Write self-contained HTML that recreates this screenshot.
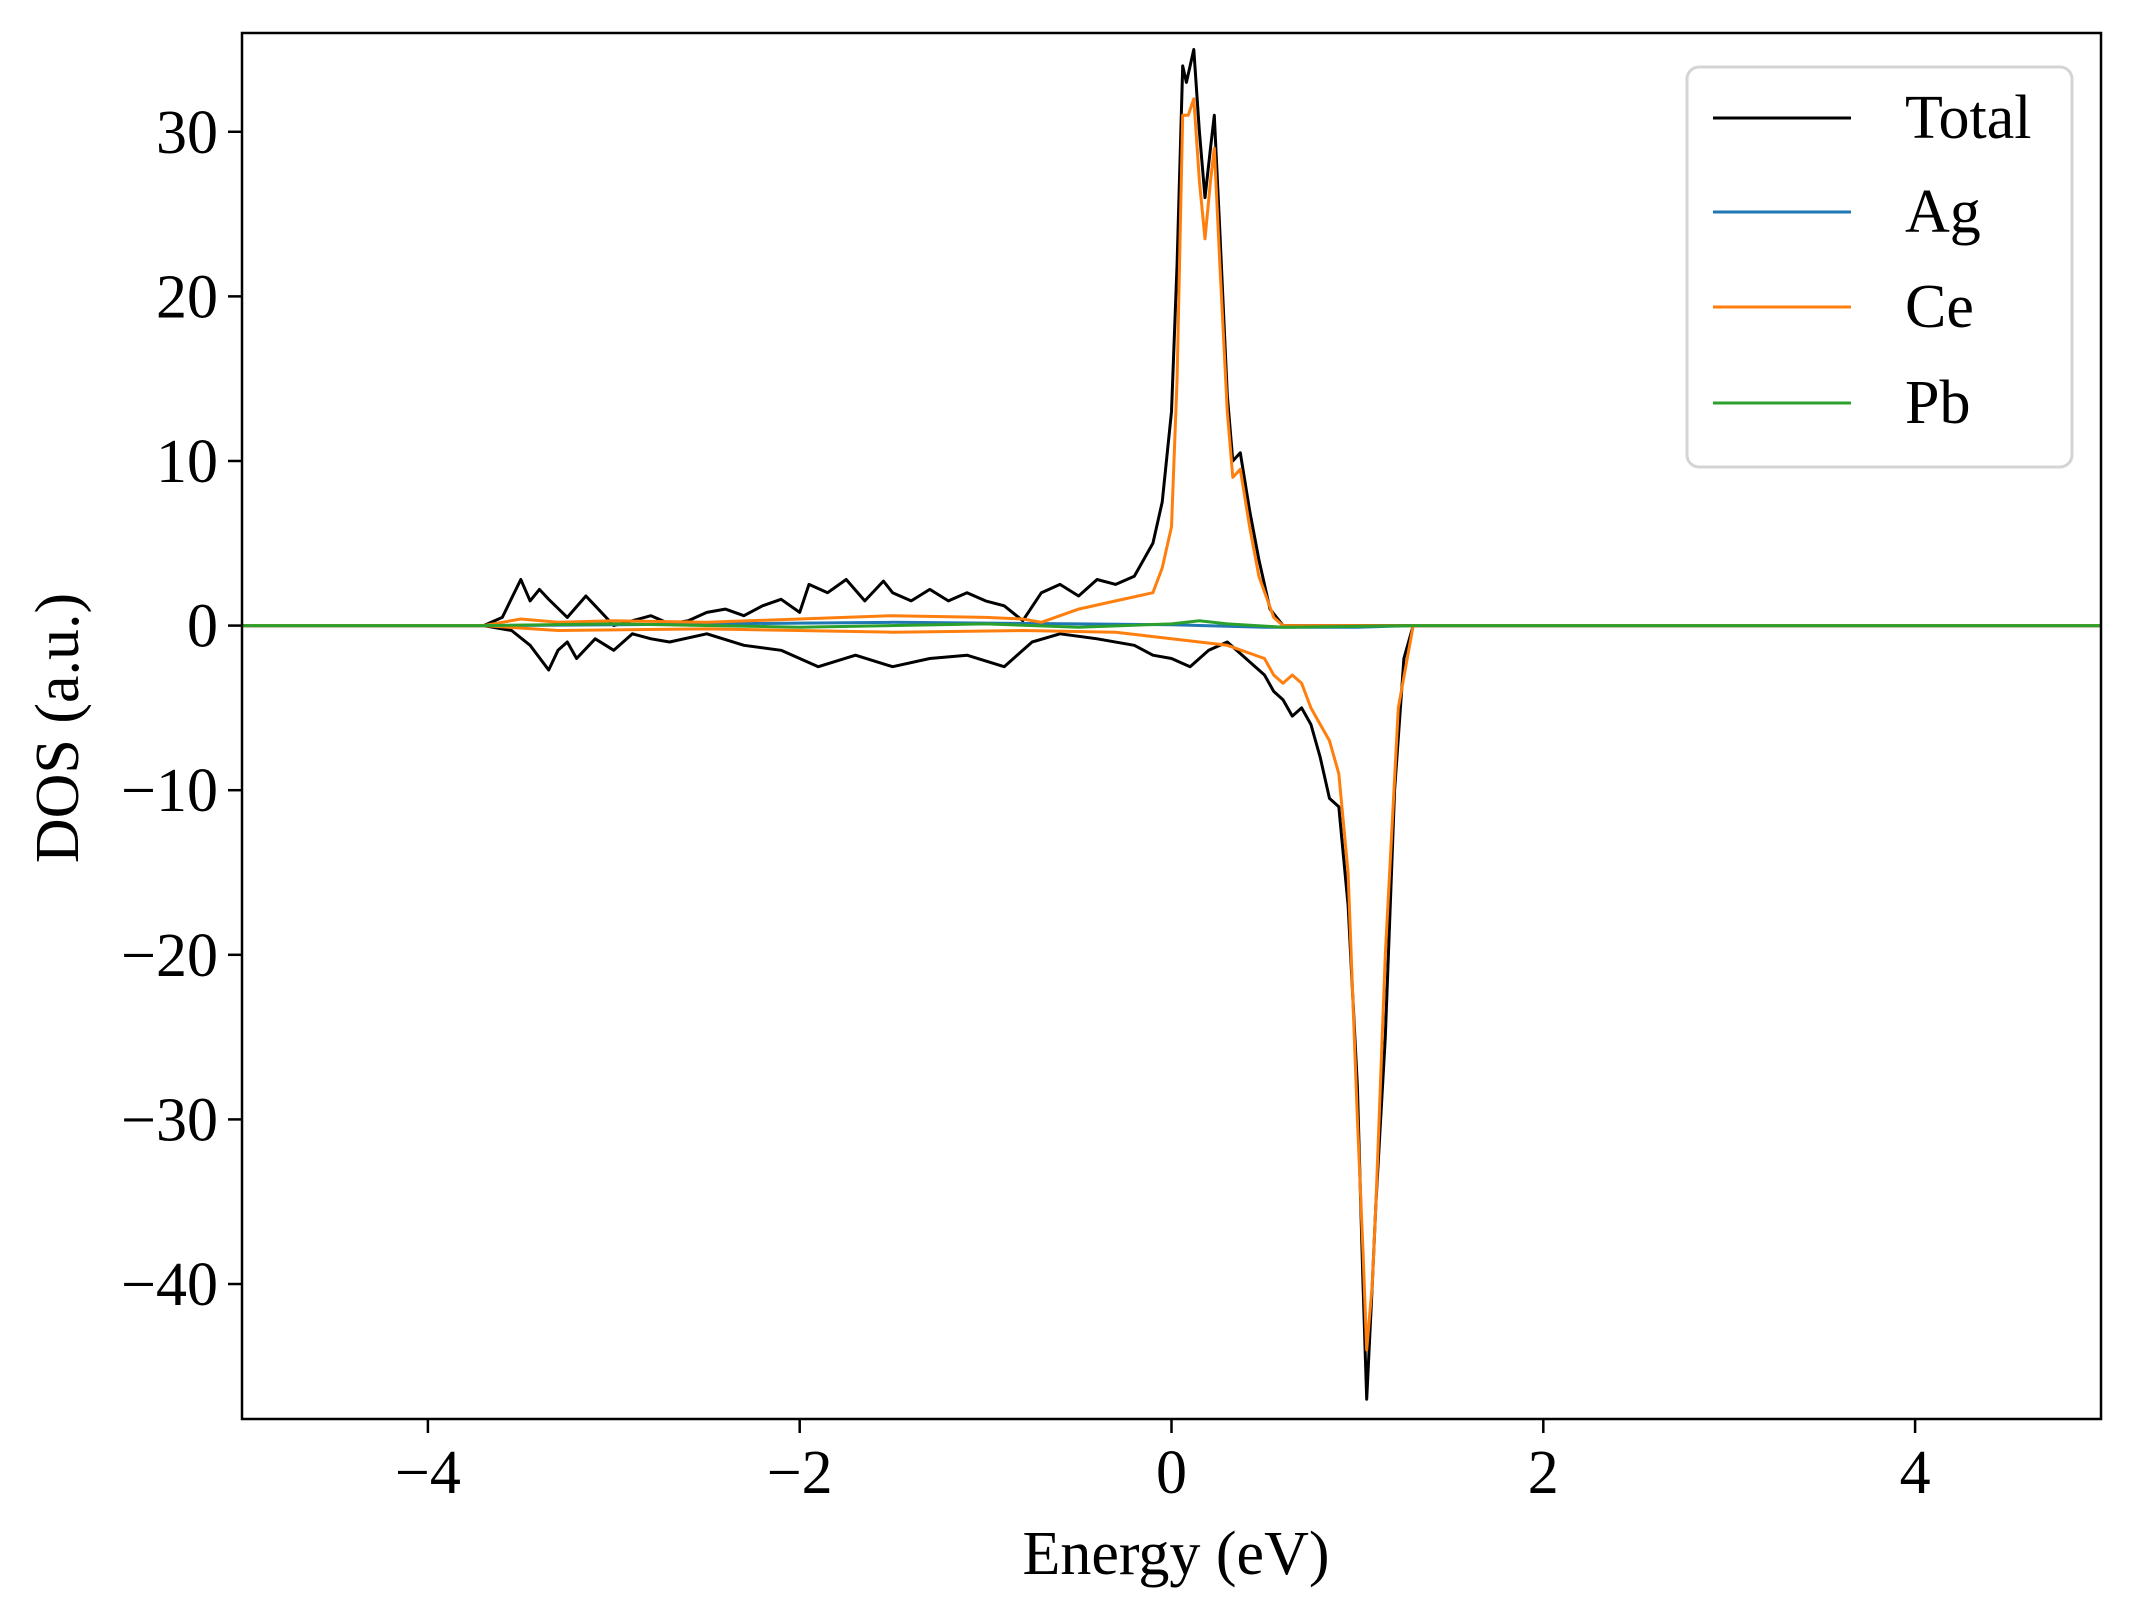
<!DOCTYPE html>
<html><head><meta charset="utf-8"><style>
html,body{margin:0;padding:0;background:#fff;}
svg text{font-family:"Liberation Serif",serif;fill:#000;}
</style></head><body>
<svg id="chart" width="2134" height="1617" viewBox="0 0 2134 1617" xmlns="http://www.w3.org/2000/svg">
<rect width="2134" height="1617" fill="#fff"/>
<defs><clipPath id="clip"><rect x="242" y="33" width="1859" height="1386"/></clipPath></defs>
<g id="series" clip-path="url(#clip)"></g>
<g id="axes"></g>
<g>
<rect x="1687" y="67" width="385" height="400" rx="12" fill="#fff" fill-opacity="0.8" stroke="#d4d4d4" stroke-width="3"/>
<line x1="1713" y1="118" x2="1851" y2="118" stroke="#000" stroke-width="3"/>
<text x="1905" y="138" font-size="62">Total</text>
<line x1="1713" y1="212" x2="1851" y2="212" stroke="#1f77b4" stroke-width="3"/>
<text x="1905" y="232" font-size="62">Ag</text>
<line x1="1713" y1="307" x2="1851" y2="307" stroke="#ff7f0e" stroke-width="3"/>
<text x="1905" y="327" font-size="62">Ce</text>
<line x1="1713" y1="403" x2="1851" y2="403" stroke="#2ca02c" stroke-width="3"/>
<text x="1905" y="423" font-size="62">Pb</text>
</g>
<text x="1176" y="1574" font-size="62" text-anchor="middle">Energy (eV)</text>
<text transform="translate(78,728) rotate(-90)" font-size="62" text-anchor="middle">DOS (a.u.)</text>
</svg>
<script>
const xTicks=[-4,-2,0,2,4];
const xTickLabels=["−4","−2","0","2","4"];
const yTicks=[-40,-30,-20,-10,0,10,20,30];
const yTickLabels=["−40","−30","−20","−10","0","10","20","30"];
const totUpX=[-5,-3.7,-3.6,-3.5,-3.45,-3.4,-3.35,-3.25,-3.15,-3.1,-3.0,-2.9,-2.8,-2.7,-2.6,-2.5,-2.4,-2.3,-2.2,-2.1,-2.0,-1.95,-1.85,-1.75,-1.65,-1.55,-1.5,-1.4,-1.3,-1.2,-1.1,-1.0,-0.9,-0.8,-0.7,-0.6,-0.5,-0.4,-0.3,-0.2,-0.1,-0.05,0,0.03,0.06,0.08,0.1,0.12,0.15,0.18,0.21,0.23,0.26,0.3,0.33,0.37,0.42,0.47,0.53,0.6,5];
const totUpY=[0,0,0.5,2.8,1.5,2.2,1.6,0.5,1.8,1.2,0,0.3,0.6,0.1,0.3,0.8,1.0,0.6,1.2,1.6,0.8,2.5,2.0,2.8,1.5,2.7,2.0,1.5,2.2,1.5,2.0,1.5,1.2,0.3,2.0,2.5,1.8,2.8,2.5,3.0,5.0,7.5,13,22,34,33,34,35,30,26,29,31,24,14,10,10.5,7,4,1,0,0];
const totDnX=[-5,-3.7,-3.55,-3.45,-3.35,-3.3,-3.25,-3.2,-3.1,-3.0,-2.9,-2.8,-2.7,-2.5,-2.3,-2.1,-1.9,-1.7,-1.5,-1.3,-1.1,-0.9,-0.75,-0.6,-0.4,-0.2,-0.1,0,0.1,0.2,0.3,0.4,0.5,0.55,0.6,0.65,0.7,0.75,0.8,0.85,0.9,0.95,1.0,1.03,1.05,1.08,1.1,1.15,1.2,1.25,1.3,5];
const totDnY=[0,0,-0.3,-1.2,-2.7,-1.5,-1.0,-2.0,-0.8,-1.5,-0.5,-0.8,-1.0,-0.5,-1.2,-1.5,-2.5,-1.8,-2.5,-2.0,-1.8,-2.5,-1.0,-0.5,-0.8,-1.2,-1.8,-2.0,-2.5,-1.5,-1.0,-2.0,-3.0,-4.0,-4.5,-5.5,-5.0,-6.0,-8.0,-10.5,-11,-17,-28,-40,-47,-40,-35,-25,-10,-2,0,0];
const ceUpX=[-5,-3.7,-3.5,-3.3,-3.0,-2.5,-2.0,-1.5,-1.0,-0.8,-0.7,-0.5,-0.3,-0.1,-0.05,0,0.03,0.06,0.09,0.12,0.15,0.18,0.21,0.23,0.26,0.3,0.33,0.37,0.42,0.47,0.55,0.6,5];
const ceUpY=[0,0,0.4,0.2,0.3,0.2,0.4,0.6,0.5,0.4,0.2,1.0,1.5,2.0,3.5,6,15,31,31,32,27,23.5,27,29,22,13,9,9.5,6,3,0.5,0,0];
const ceDnX=[-5,-3.7,-3.3,-2.5,-1.5,-0.8,-0.3,0,0.3,0.5,0.55,0.6,0.65,0.7,0.75,0.8,0.85,0.9,0.95,1.0,1.03,1.05,1.08,1.1,1.15,1.22,1.3,5];
const ceDnY=[0,0,-0.3,-0.2,-0.4,-0.3,-0.4,-0.8,-1.2,-2.0,-3.0,-3.5,-3.0,-3.5,-5.0,-6.0,-7.0,-9.0,-15,-30,-38,-44,-40,-35,-20,-5,0,0];
const agX=[-5,-3.7,-3,-2,-1.5,-1,-0.5,0,0.5,1,1.3,5];
const agY=[0,0,0.05,0.15,0.2,0.15,0.1,0.05,-0.1,-0.1,0,0];
const pbX=[-5,-3.7,-3,-2,-1,-0.5,0,0.15,0.3,0.6,1.0,1.3,5];
const pbY=[0,0,0.1,-0.1,0.1,-0.1,0.1,0.3,0.1,-0.1,-0.05,0,0];

const L=242,R=2101,T=33,B=1419,XMIN=-5,XMAX=5,YMIN=-48.2,YMAX=36.0;
function sx(v){return L+(v-XMIN)/(XMAX-XMIN)*(R-L);}
function sy(v){return B-(v-YMIN)/(YMAX-YMIN)*(B-T);}
const NS="http://www.w3.org/2000/svg";
const g=document.getElementById('series');
function line(xs,ys,color,name){
  const p=document.createElementNS(NS,'path');
  p.setAttribute('d',xs.map((x,i)=>(i?'L':'M')+sx(x).toFixed(1)+' '+sy(ys[i]).toFixed(1)).join(''));
  p.setAttribute('fill','none');p.setAttribute('stroke',color);p.setAttribute('stroke-width','3');p.setAttribute('stroke-linejoin','round');
  
  
  g.appendChild(p);
}
line(totUpX,totUpY,'#000','total-up-line');
line(totDnX,totDnY,'#000','total-down-line');
line(agX,agY,'#1f77b4','ag-line');
line(ceUpX,ceUpY,'#ff7f0e','ce-up-line');
line(ceDnX,ceDnY,'#ff7f0e','ce-down-line');
line(pbX,pbY,'#2ca02c','pb-line');
const ax=document.getElementById('axes');
const fr=document.createElementNS(NS,'rect');
fr.setAttribute('x',L);fr.setAttribute('y',T);fr.setAttribute('width',R-L);fr.setAttribute('height',B-T);
fr.setAttribute('fill','none');fr.setAttribute('stroke','#000');fr.setAttribute('stroke-width','2.5');


ax.appendChild(fr);
xTicks.forEach((v,i)=>{
  const t=document.createElementNS(NS,'line');
  t.setAttribute('x1',sx(v));t.setAttribute('x2',sx(v));t.setAttribute('y1',B);t.setAttribute('y2',B+14);
  t.setAttribute('stroke','#000');t.setAttribute('stroke-width','2.5');
  
  
  ax.appendChild(t);
  const s=document.createElementNS(NS,'text');
  s.setAttribute('x',sx(v));s.setAttribute('y',B+74);s.setAttribute('font-size','62');s.setAttribute('text-anchor','middle');
  s.textContent=xTickLabels[i];
  
  
  ax.appendChild(s);
});
yTicks.forEach((v,i)=>{
  const t=document.createElementNS(NS,'line');
  t.setAttribute('x1',L-14);t.setAttribute('x2',L);t.setAttribute('y1',sy(v));t.setAttribute('y2',sy(v));
  t.setAttribute('stroke','#000');t.setAttribute('stroke-width','2.5');
  
  
  ax.appendChild(t);
  const s=document.createElementNS(NS,'text');
  s.setAttribute('x',L-24);s.setAttribute('y',sy(v)+21);s.setAttribute('font-size','62');s.setAttribute('text-anchor','end');
  s.textContent=yTickLabels[i];
  
  
  ax.appendChild(s);
});
</script>
</body></html>
